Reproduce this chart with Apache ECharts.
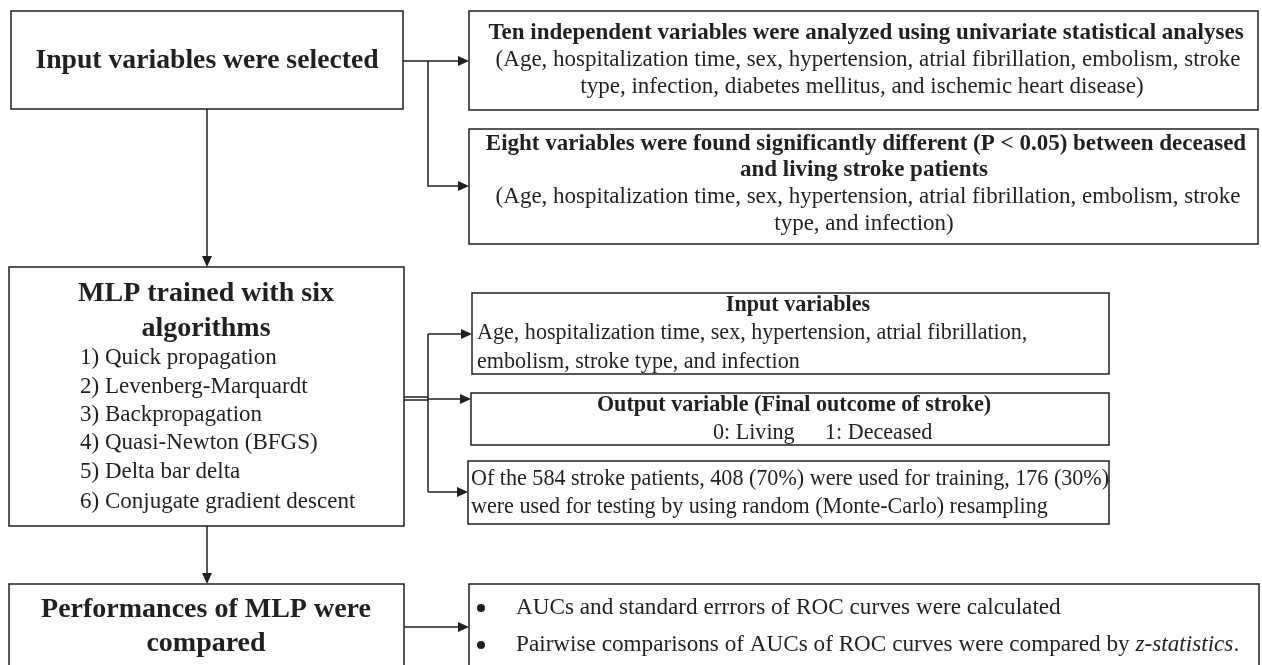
<!DOCTYPE html>
<html><head><meta charset="utf-8">
<script src="https://cdn.jsdelivr.net/npm/echarts@6/dist/echarts.min.js"></script>
<style>html,body{margin:0;padding:0;background:#fff;}#c{width:1262px;height:665px;}</style>
</head><body><div id="c"></div>
<script>
// ---- content ----
const titleSelected = ['Input variables were selected'];
const textTen = ['Ten independent variables were analyzed using univariate statistical analyses',
  '(Age, hospitalization time, sex, hypertension, atrial fibrillation, embolism, stroke',
  'type, infection, diabetes mellitus, and ischemic heart disease)'];
const textEight = ['Eight variables were found significantly different (P < 0.05) between deceased',
  'and living stroke patients',
  '(Age, hospitalization time, sex, hypertension, atrial fibrillation, embolism, stroke',
  'type, and infection)'];
const titleMLP = ['MLP trained with six', 'algorithms'];
const algorithms = ['1) Quick propagation', '2) Levenberg-Marquardt', '3) Backpropagation',
  '4) Quasi-Newton (BFGS)', '5) Delta bar delta', '6) Conjugate gradient descent'];
const textInput = ['Input variables', 'Age, hospitalization time, sex, hypertension, atrial fibrillation,',
  'embolism, stroke type, and infection'];
const textOutput = ['Output variable (Final outcome of stroke)', '0: Living', '1: Deceased'];
const textSplit = ['Of the 584 stroke patients, 408 (70%) were used for training, 176 (30%)',
  'were used for testing by using random (Monte-Carlo) resampling'];
const titlePerf = ['Performances of MLP were', 'compared'];
const bullets = ['AUCs and standard errrors of ROC curves were calculated',
  'Pairwise comparisons of AUCs of ROC curves were compared by {i|z-statistics}.'];

// ---- drawing ----
const INK = '#231f20';
const FONT = '"Liberation Serif", "Times New Roman", serif';
const els = [];
function box(x1, y1, x2, y2) {
  els.push({type:'rect', shape:{x:x1, y:y1, width:x2-x1, height:y2-y1},
    style:{fill:'#fff', stroke:INK, lineWidth:1.5}, z:1});
}
function line(pts) {
  els.push({type:'polyline', shape:{points:pts}, style:{stroke:INK, lineWidth:1.5, fill:null}, z:2});
}
function arrowRight(x, y) {
  els.push({type:'polygon', shape:{points:[[x,y],[x-11,y-5],[x-11,y+5]]}, style:{fill:INK}, z:3});
}
function arrowDown(x, y) {
  els.push({type:'polygon', shape:{points:[[x,y],[x-5,y-11],[x+5,y-11]]}, style:{fill:INK}, z:3});
}
function txt(s, x, y, size, bold, align, rich) {
  const st = {text:s, x:x, y:y, fontSize:size, fontFamily:FONT, fontWeight:bold?'bold':'normal',
    fill:INK, align:align||'center', verticalAlign:'middle'};
  if (rich) st.rich = rich;
  els.push({type:'text', style:st, z:4});
}
const F2 = 23;   // upper right boxes
const F3 = 22.1; // middle right boxes
const FT = 28;   // bold titles

// Box 1
box(11, 11, 403, 109);
txt(titleSelected[0], 207, 61, 27.7, true);
// Box 2
box(469, 11, 1258, 110);
txt(textTen[0], 866, 33, F2, true);
txt(textTen[1], 868, 60, F2, false);
txt(textTen[2], 862, 87, F2, false);
// Box 3
box(469, 129, 1258, 244);
txt(textEight[0], 866, 144, F2, true);
txt(textEight[1], 864, 170, F2, true);
txt(textEight[2], 868, 197, F2, false);
txt(textEight[3], 864, 224, F2, false);
// connectors top
line([[403,61],[465,61]]); arrowRight(469,61);
line([[428,61],[428,186],[465,186]]); arrowRight(469,186);
line([[207,109],[207,262]]); arrowDown(207,267);

// Box 4
box(9, 267, 404, 526);
txt(titleMLP[0], 206, 294, FT, true);
txt(titleMLP[1], 206, 329, FT, true);
const ay = [358, 387, 415, 443, 472, 502];
algorithms.forEach((a,i)=>txt(a, 80, ay[i], 23, false, 'left'));
// connectors middle
line([[404,397],[428,397]]); line([[404,400],[428,400]]);
line([[428,334],[428,492]]);
line([[428,334],[468,334]]); arrowRight(472,334);
line([[428,399],[467,399]]); arrowRight(471,399);
line([[428,492],[464,492]]); arrowRight(468,492);

// Box 5
box(472, 293, 1109, 374);
txt(textInput[0], 798, 305, F3, true);
txt(textInput[1], 477, 333, F3, false, 'left');
txt(textInput[2], 477, 362, F3, false, 'left');
// Box 6
box(471, 393, 1109, 445);
txt(textOutput[0], 794, 405, F3, true);
txt(textOutput[1], 713, 433, F3, false, 'left');
txt(textOutput[2], 825, 433, F3, false, 'left');
// Box 7
box(468, 461, 1109, 524);
txt(textSplit[0], 471, 479, F3, false, 'left');
txt(textSplit[1], 471, 507, F3, false, 'left');

// bottom
line([[207,526],[207,579]]); arrowDown(207,584);
box(9, 584, 404, 700);
txt(titlePerf[0], 206, 610, FT, true);
txt(titlePerf[1], 206, 644, FT, true);
line([[404,627],[465,627]]); arrowRight(469,627);
box(469, 584, 1259, 700);
[608, 645].forEach((y,i)=>{
  els.push({type:'circle', shape:{cx:481, cy:y, r:4}, style:{fill:INK}, z:4});
  txt(bullets[i], 516, y, 23.2, false, 'left',
    {i:{fontStyle:'italic', fontSize:23.2, fontFamily:FONT, fill:INK}});
});

const chart = echarts.init(document.getElementById('c'), null, {renderer:'canvas'});
chart.setOption({backgroundColor:'#fff', animation:false, graphic:{elements:els}});
</script></body></html>
